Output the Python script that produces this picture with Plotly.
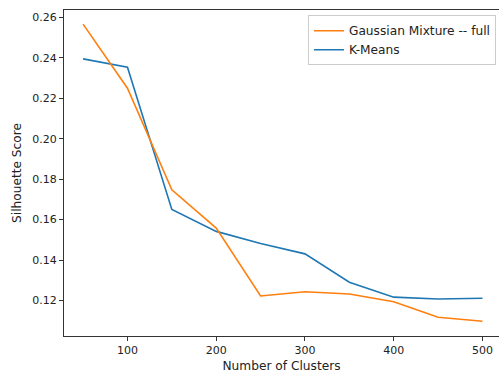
import plotly.graph_objects as go

n_clusters = [50, 100, 150, 200, 250, 300, 350, 400, 450, 500]
gmm_full = [0.2566, 0.2249, 0.1747, 0.1558, 0.1223, 0.1244, 0.1233, 0.1194, 0.1118, 0.1098]
kmeans = [0.2394, 0.2353, 0.1650, 0.1542, 0.1482, 0.1431, 0.1291, 0.1217, 0.1208, 0.1212]
x_ticks = [100, 200, 300, 400, 500]
y_ticks = [0.12, 0.14, 0.16, 0.18, 0.20, 0.22, 0.24, 0.26]

fig = go.Figure()
fig.add_trace(go.Scatter(x=n_clusters, y=kmeans, mode="lines", name="K-Means",
                         line=dict(color="#1f77b4", width=1.6)))
fig.add_trace(go.Scatter(x=n_clusters, y=gmm_full, mode="lines", name="Gaussian Mixture -- full",
                         line=dict(color="#ff7f0e", width=1.6)))

tick_font = dict(family="DejaVu Sans", size=11, color="#222")
label_font = dict(family="DejaVu Sans", size=12.2, color="#222")
fig.update_layout(
    width=499, height=373,
    margin=dict(l=64, r=0, t=10, b=37),
    paper_bgcolor="white", plot_bgcolor="white",
    font=tick_font,
    showlegend=True,
    legend=dict(x=0.993, y=0.984, xanchor="right", yanchor="top",
                traceorder="reversed", bgcolor="rgba(255,255,255,0.8)",
                bordercolor="#cccccc", borderwidth=1, font=label_font,
                tracegroupgap=0, itemwidth=30),
)
fig.update_xaxes(range=[28.5, 518.6], tickvals=x_ticks, ticktext=[str(v) for v in x_ticks],
                 showgrid=False, zeroline=False, showline=True, mirror=True,
                 linecolor="#333", linewidth=1, ticks="outside", ticklen=4,
                 tickcolor="#333", tickfont=tick_font,
                 title=dict(text="Number of Clusters", font=label_font, standoff=5))
fig.update_yaxes(range=[0.10252, 0.26356], tickvals=y_ticks,
                 ticktext=[f"{v:.2f}" for v in y_ticks],
                 showgrid=False, zeroline=False, showline=True, mirror=False,
                 linecolor="#333", linewidth=1, ticks="outside", ticklen=4,
                 tickcolor="#333", tickfont=tick_font,
                 title=dict(text="Silhouette Score", font=label_font, standoff=8))
fig.write_html("out.html", config={"displayModeBar": False},
               post_script="document.body.style.margin='0';document.body.style.overflow='hidden';")
